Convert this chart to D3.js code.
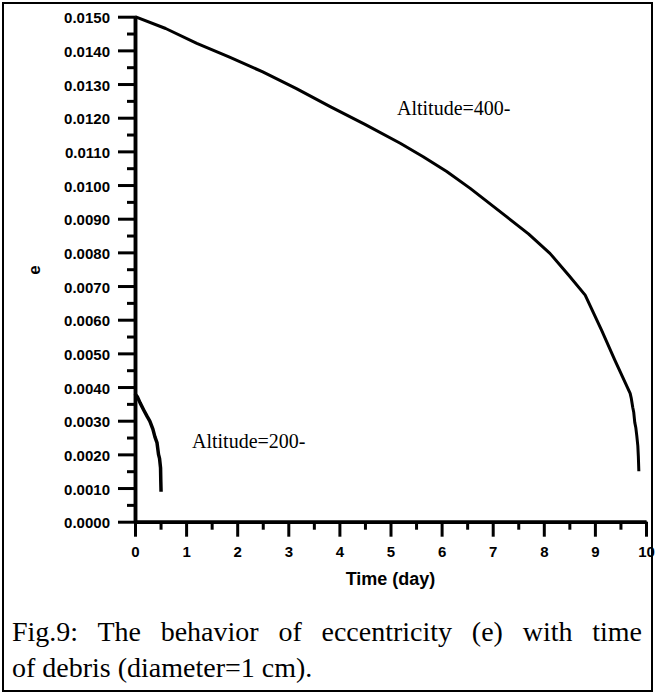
<!DOCTYPE html>
<html>
<head>
<meta charset="utf-8">
<script src="https://cdn.jsdelivr.net/npm/d3@7"></script>
<style>
  html, body { margin: 0; padding: 0; background: #fff; }
  svg { display: block; }
</style>
</head>
<body>
<svg id="chart" width="656" height="695"></svg>
<script>
// Eccentricity decay of a 1 cm debris particle, two starting altitudes
const alt400Time = [0, 0.6, 1.21, 1.85, 2.5, 3.15, 3.82, 4.5, 5.19, 5.64, 6.1, 6.56, 7.27, 7.7, 8.12, 8.5, 8.81, 9.13, 9.39, 9.69, 9.71, 9.74, 9.76, 9.78, 9.8, 9.82, 9.84, 9.85, 9.86];
const alt400Ecc  = [0.0150, 0.01465, 0.01421, 0.01380, 0.01336, 0.01287, 0.01233, 0.01180, 0.01124, 0.01084, 0.01040, 0.00990, 0.00906, 0.00855, 0.00797, 0.00730, 0.00673, 0.00569, 0.00480, 0.00381, 0.00368, 0.00340, 0.00325, 0.00295, 0.00280, 0.00255, 0.00225, 0.00195, 0.00150];

const alt200Time = [0, 0.05, 0.10, 0.17, 0.24, 0.29, 0.35, 0.39, 0.43, 0.46, 0.48, 0.50, 0.505, 0.51];
const alt200Ecc  = [0.00380, 0.00370, 0.00353, 0.00332, 0.00312, 0.00299, 0.00275, 0.00252, 0.00235, 0.00200, 0.00188, 0.00160, 0.00120, 0.00089];

const seriesLabels = ["Altitude=400-", "Altitude=200-"];
const xTicks = d3.range(0, 11, 1);
const xMinorTicks = d3.range(0.5, 10, 1);
const yTicks = d3.range(0, 16, 1).map(i => i * 0.001);
const yMinorTicks = d3.range(0, 15, 1).map(i => i * 0.001 + 0.0005);
const xTitle = "Time (day)";
const yTitle = "e";
const captionLines = [
  "Fig.9: The behavior of eccentricity (e) with time",
  "of debris (diameter=1 cm)."
];

const svg = d3.select("#chart");
const sans = "'Liberation Sans', Arial, sans-serif";
const serif = "'Liberation Serif', 'Times New Roman', serif";

// outer frame
svg.append("rect")
  .attr("x", 3).attr("y", 3).attr("width", 649).attr("height", 688)
  .attr("fill", "none").attr("stroke", "#000").attr("stroke-width", 2);

const x = d3.scaleLinear().domain([0, 10]).range([135, 646]);
const y = d3.scaleLinear().domain([0, 0.015]).range([521.7, 16.7]);

function styleAxis(g) {
  g.select(".domain").attr("stroke-width", 3.5).attr("stroke", "#000");
  g.selectAll(".tick line").attr("stroke-width", 3).attr("stroke", "#000");
  g.selectAll(".tick text")
    .attr("font-family", sans).attr("font-weight", "bold")
    .attr("font-size", 15).attr("fill", "#000");
}

// y axis: minor ticks first, then major ticks with labels
svg.append("g").attr("transform", `translate(${x(0)},0)`)
  .call(d3.axisLeft(y).tickValues(yMinorTicks).tickSize(8).tickSizeOuter(0).tickFormat(""))
  .call(styleAxis);
svg.append("g").attr("transform", `translate(${x(0)},0)`)
  .call(d3.axisLeft(y).tickValues(yTicks).tickSize(17).tickSizeOuter(0)
    .tickPadding(8).tickFormat(d3.format(".4f")))
  .call(styleAxis)
  .call(g => g.selectAll(".tick text").attr("dy", "0.4em"));

// x axis
svg.append("g").attr("transform", `translate(0,${y(0)})`)
  .call(d3.axisBottom(x).tickValues(xMinorTicks).tickSize(8).tickSizeOuter(0).tickFormat(""))
  .call(styleAxis);
svg.append("g").attr("transform", `translate(0,${y(0)})`)
  .call(d3.axisBottom(x).tickValues(xTicks).tickSize(15).tickSizeOuter(0)
    .tickPadding(10).tickFormat(d3.format("d")))
  .call(styleAxis);

// axis titles
svg.append("text")
  .attr("x", (x(0) + x(10)) / 2).attr("y", 585)
  .attr("text-anchor", "middle")
  .attr("font-family", sans).attr("font-weight", "bold").attr("font-size", 18)
  .text(xTitle);

svg.append("text")
  .attr("transform", "translate(40,270) rotate(-90)")
  .attr("text-anchor", "middle")
  .attr("font-family", sans).attr("font-weight", "bold").attr("font-size", 17)
  .text(yTitle);

// curves
const line = d3.line().x(d => x(d[0])).y(d => y(d[1]));
const s400 = alt400Time.map((t, i) => [t, alt400Ecc[i]]);
const s200 = alt200Time.map((t, i) => [t, alt200Ecc[i]]);

svg.append("path").datum(s400).attr("d", line)
  .attr("fill", "none").attr("stroke", "#000").attr("stroke-width", 3)
  .attr("stroke-linejoin", "round");
svg.append("path").datum(s200).attr("d", line)
  .attr("fill", "none").attr("stroke", "#000").attr("stroke-width", 3.5)
  .attr("stroke-linejoin", "round");

// series labels
svg.append("text").attr("x", 397).attr("y", 115)
  .attr("font-family", serif).attr("font-size", 20).text(seriesLabels[0]);
svg.append("text").attr("x", 192).attr("y", 448)
  .attr("font-family", serif).attr("font-size", 20).text(seriesLabels[1]);

// caption, first line justified to the frame width
const capSize = 28;
const cap1 = svg.append("text").attr("x", 12).attr("y", 641)
  .attr("font-family", serif).attr("font-size", capSize).text(captionLines[0]);
const natural = cap1.node().getComputedTextLength();
const spaces = captionLines[0].split(" ").length - 1;
cap1.attr("word-spacing", Math.max(0, (630 - natural) / spaces));
svg.append("text").attr("x", 12).attr("y", 677)
  .attr("font-family", serif).attr("font-size", capSize).text(captionLines[1]);
</script>
</body>
</html>
